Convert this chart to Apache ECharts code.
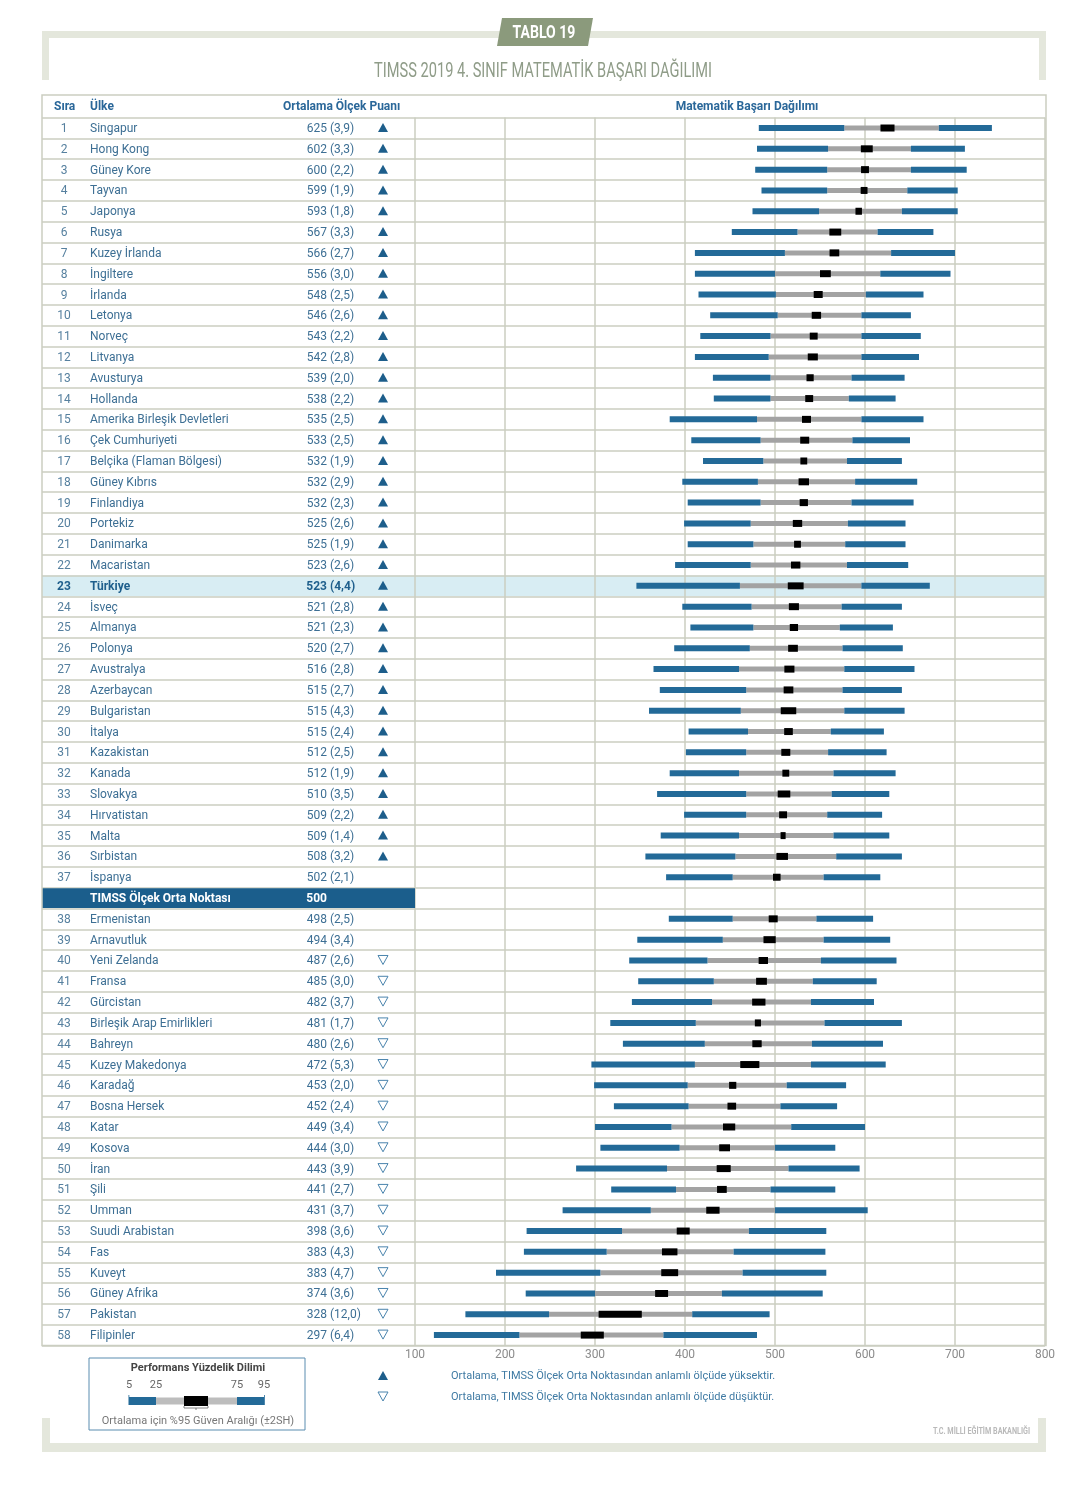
<!DOCTYPE html>
<html><head><meta charset="utf-8">
<style>html,body{margin:0;padding:0;background:#fff}#c{width:1080px;height:1486px}</style>
<script src="https://cdn.jsdelivr.net/npm/echarts@6/dist/echarts.min.js"></script>
</head><body><div id="c"></div>
<script>
// ---------------- DATA ----------------
const countries = ['Singapur','Hong Kong','Güney Kore','Tayvan','Japonya','Rusya','Kuzey İrlanda','İngiltere','İrlanda','Letonya','Norveç','Litvanya','Avusturya','Hollanda','Amerika Birleşik Devletleri','Çek Cumhuriyeti','Belçika (Flaman Bölgesi)','Güney Kıbrıs','Finlandiya','Portekiz','Danimarka','Macaristan','Türkiye','İsveç','Almanya','Polonya','Avustralya','Azerbaycan','Bulgaristan','İtalya','Kazakistan','Kanada','Slovakya','Hırvatistan','Malta','Sırbistan','İspanya','Ermenistan','Arnavutluk','Yeni Zelanda','Fransa','Gürcistan','Birleşik Arap Emirlikleri','Bahreyn','Kuzey Makedonya','Karadağ','Bosna Hersek','Katar','Kosova','İran','Şili','Umman','Suudi Arabistan','Fas','Kuveyt','Güney Afrika','Pakistan','Filipinler'];
const means = [625,602,600,599,593,567,566,556,548,546,543,542,539,538,535,533,532,532,532,525,525,523,523,521,521,520,516,515,515,515,512,512,510,509,509,508,502,498,494,487,485,482,481,480,472,453,452,449,444,443,441,431,398,383,383,374,328,297];
const stdErrors = [3.9,3.3,2.2,1.9,1.8,3.3,2.7,3.0,2.5,2.6,2.2,2.8,2.0,2.2,2.5,2.5,1.9,2.9,2.3,2.6,1.9,2.6,4.4,2.8,2.3,2.7,2.8,2.7,4.3,2.4,2.5,1.9,3.5,2.2,1.4,3.2,2.1,2.5,3.4,2.6,3.0,3.7,1.7,2.6,5.3,2.0,2.4,3.4,3.0,3.9,2.7,3.7,3.6,4.3,4.7,3.6,12.0,6.4];
// 1 = significantly higher than centrepoint, 0 = not significant, -1 = significantly lower
const significance = [1,1,1,1,1,1,1,1,1,1,1,1,1,1,1,1,1,1,1,1,1,1,1,1,1,1,1,1,1,1,1,1,1,1,1,1,0,0,0,-1,-1,-1,-1,-1,-1,-1,-1,-1,-1,-1,-1,-1,-1,-1,-1,-1,-1,-1];
const p5  = [482,480,478,485,475,452,411,411,415,428,417,411,431,432,383,407,420,397,403,399,403,389,346,397,406,388,365,372,360,404,401,383,369,399,373,356,379,382,347,338,348,341,317,331,296,299,321,300,306,279,318,264,224,221,190,223,156,121];
const p25 = [577,559,558,558,549,525,511,500,501,503,495,493,495,495,480,484,487,481,484,473,476,473,461,474,476,472,460,468,462,470,468,460,468,468,460,456,453,453,442,425,432,430,412,422,411,403,404,385,394,380,390,362,330,313,306,300,249,216];
const p75 = [682,651,651,647,641,614,629,617,601,596,596,596,585,582,596,586,580,589,585,581,578,580,596,574,572,575,577,575,577,562,559,565,563,558,565,568,554,546,554,551,542,540,555,541,540,513,506,518,500,515,495,500,471,454,464,441,408,376];
const p95 = [741,711,713,703,703,676,700,695,665,651,662,660,644,634,665,650,641,658,654,645,645,648,672,641,631,642,655,641,644,621,624,634,627,619,627,641,617,609,628,635,613,610,641,620,623,579,569,600,567,594,567,603,557,556,557,553,494,480];
const midpointLabel = 'TIMSS Ölçek Orta Noktası';
const midpointValue = 500;
const midpointAfter = 37;          // countries listed above the centrepoint row
const highlightCountry = 'Türkiye';
const axisMin = 100, axisMax = 800, axisStep = 100;

const titleText = 'TIMSS 2019 4. SINIF MATEMATİK BAŞARI DAĞILIMI';
const badgeText = 'TABLO 19';
const headers = ['Sıra','Ülke','Ortalama Ölçek Puanı','Matematik Başarı Dağılımı'];
const legendTitle = 'Performans Yüzdelik Dilimi';
const legendPercentiles = ['5','25','75','95'];
const legendCI = 'Ortalama için %95 Güven Aralığı (±2SH)';
const noteHigh = 'Ortalama, TIMSS Ölçek Orta Noktasından anlamlı ölçüde yüksektir.';
const noteLow = 'Ortalama, TIMSS Ölçek Orta Noktasından anlamlı ölçüde düşüktür.';
const sourceText = 'T.C. MİLLİ EĞİTİM BAKANLIĞI';

// ---------------- BUILD ROWS ----------------
const rowLabels = [], rowInfo = [];
countries.forEach((n, i) => {
  if (i === midpointAfter) { rowLabels.push(midpointLabel); rowInfo.push({ mid: true }); }
  rowLabels.push(n); rowInfo.push({ i });
});
const rowOf = i => (i < midpointAfter ? i : i + 1);
const fmt = v => v.toFixed(1).replace('.', ',');

const FONT = 'Roboto, "Noto Sans", sans-serif';
const TXT = '#3d6f94';
const BLUE = '#236a98';
const GRID = '#cbcec1';

const tableData = rowInfo.map((r, k) => [0, k]);
const hiIdx = countries.indexOf(highlightCountry);
const barData = countries.map((n, i) => [rowOf(i), p5[i], p25[i], p75[i], p95[i], means[i], stdErrors[i]]);

function renderTable(params, api) {
  const r = api.value(1);
  const info = rowInfo[r];
  const cs = params.coordSys;
  const yc = api.coord([0, r])[1];
  const y = yc + 1;
  const h = api.size([0, 1])[1];
  const x0 = cs.x;
  const ch = [];
  if (info.mid) {
    ch.push({ type: 'rect', shape: { x: x0, y: yc - h / 2 + 0.5, width: cs.width, height: h - 1 }, style: { fill: '#1b5e8c' } });
    ch.push({ type: 'text', style: { x: x0 + 48, y: y, text: midpointLabel, fill: '#fff', font: 'bold 12px ' + FONT, textVerticalAlign: 'middle' } });
    ch.push({ type: 'text', style: { x: x0 + 285, y: y, text: String(midpointValue), fill: '#fff', font: 'bold 12px ' + FONT, textAlign: 'right', textVerticalAlign: 'middle' } });
    return { type: 'group', children: ch };
  }
  const i = info.i;
  const bold = countries[i] === highlightCountry;
  const f = (bold ? 'bold ' : '') + '12px ' + FONT;
  const col = bold ? '#1f5f8c' : TXT;
  ch.push({ type: 'text', style: { x: x0 + 22, y: y, text: String(i + 1), fill: bold ? col : '#56809f', font: f, textAlign: 'center', textVerticalAlign: 'middle' } });
  ch.push({ type: 'text', style: { x: x0 + 48, y: y, text: countries[i], fill: col, font: f, textVerticalAlign: 'middle' } });
  ch.push({ type: 'text', style: { x: x0 + 285, y: y, text: String(means[i]), fill: col, font: f, textAlign: 'right', textVerticalAlign: 'middle' } });
  ch.push({ type: 'text', style: { x: x0 + 288, y: y, text: '(' + fmt(stdErrors[i]) + ')', fill: col, font: f, textVerticalAlign: 'middle' } });
  const tx = x0 + 341;
  if (significance[i] === 1) {
    ch.push({ type: 'polygon', shape: { points: [[tx - 5, yc + 4], [tx + 5, yc + 4], [tx, yc - 5]] }, style: { fill: '#1d5e8b' } });
  } else if (significance[i] === -1) {
    ch.push({ type: 'polygon', shape: { points: [[tx - 5, yc - 5], [tx + 5, yc - 5], [tx, yc + 4]] }, style: { fill: 'none', stroke: '#4a84ad', lineWidth: 1 } });
  }
  return { type: 'group', children: ch };
}

function renderHighlight(params, api) {
  const r = api.value(1);
  const y = api.coord([0, r])[1];
  const h = api.size([0, 1])[1];
  return { type: 'rect', shape: { x: 42, y: y - h / 2, width: 1004, height: h }, style: { fill: '#d8edf3' } };
}

function renderBars(params, api) {
  const r = api.value(0);
  const X = v => api.coord([v, r])[0];
  const y = api.coord([axisMin, r])[1];
  const a = X(api.value(1)), b = X(api.value(2)), c = X(api.value(3)), d = X(api.value(4));
  const m = api.value(5), s = api.value(6);
  const lo = X(m - 2 * s), hi = X(m + 2 * s);
  return { type: 'group', children: [
    { type: 'rect', shape: { x: b, y: y - 2.5, width: c - b, height: 5 }, style: { fill: '#a3a3a3' } },
    { type: 'rect', shape: { x: a, y: y - 3, width: b - a, height: 6 }, style: { fill: BLUE } },
    { type: 'rect', shape: { x: c, y: y - 3, width: d - c, height: 6 }, style: { fill: BLUE } },
    { type: 'rect', shape: { x: lo, y: y - 3.5, width: hi - lo, height: 7 }, style: { fill: '#000' } }
  ] };
}

const gridTop = 117.6, gridH = 1227.9;
const catAxis = (gi) => ({
  type: 'category', gridIndex: gi, data: rowLabels, inverse: true, z: 3,
  axisLine: { show: false }, axisTick: { show: false }, axisLabel: { show: false },
  splitLine: { show: true, lineStyle: { color: GRID, width: 1.5 } }
});

const sage = '#e4e7dc';
const option = {
  backgroundColor: '#fff',
  animation: false,
  grid: [
    { left: 42, width: 373, top: gridTop, height: gridH },
    { left: 415, width: 630, top: gridTop, height: gridH }
  ],
  xAxis: [
    { type: 'value', gridIndex: 0, min: 0, max: 1, show: false },
    { type: 'value', gridIndex: 1, min: axisMin, max: axisMax, interval: axisStep, z: 3,
      axisLine: { show: false }, axisTick: { show: false },
      axisLabel: { color: '#8c8c8c', fontSize: 12, fontFamily: FONT, margin: 3 },
      splitLine: { show: true, lineStyle: { color: GRID, width: 1.5 } } }
  ],
  yAxis: [catAxis(0), catAxis(1)],
  series: [
    { type: 'custom', name: 'highlight', xAxisIndex: 0, yAxisIndex: 0, z: 1, silent: true,
      data: [[0, rowOf(hiIdx)]], renderItem: renderHighlight, encode: { x: 0, y: 1 } },
    { type: 'custom', name: 'table', xAxisIndex: 0, yAxisIndex: 0, z: 5, silent: true,
      data: tableData, renderItem: renderTable, encode: { x: 0, y: 1 } },
    { type: 'custom', name: 'dist', xAxisIndex: 1, yAxisIndex: 1, z: 5, silent: true,
      data: barData, renderItem: renderBars, encode: { x: [1, 2, 3, 4], y: 0 } }
  ],
  graphic: [
    // top frame
    { type: 'rect', z: 0, shape: { x: 42, y: 31, width: 1004, height: 7 }, style: { fill: sage } },
    { type: 'rect', z: 0, shape: { x: 42, y: 31, width: 7, height: 49 }, style: { fill: sage } },
    { type: 'rect', z: 0, shape: { x: 1039, y: 31, width: 7, height: 49 }, style: { fill: sage } },
    { type: 'polygon', z: 1, shape: { points: [[502, 18], [593, 18], [588, 46], [497, 46]] }, style: { fill: '#8b9a7c' } },
    { type: 'text', z: 2, x: 544, y: 33, scaleX: 0.78, style: { text: badgeText, fill: '#fff', font: 'bold 18px ' + FONT, textAlign: 'center', textVerticalAlign: 'middle' } },
    { type: 'text', z: 2, x: 543, y: 72, scaleX: 0.75, style: { text: titleText, fill: '#8f9c88', font: '19.5px ' + FONT, textAlign: 'center', textVerticalAlign: 'middle' } },
    // header
    { type: 'text', z: 2, style: { x: 54, y: 107, text: headers[0], fill: '#2a6799', font: 'bold 12px ' + FONT, textVerticalAlign: 'middle' } },
    { type: 'text', z: 2, style: { x: 90, y: 107, text: headers[1], fill: '#2a6799', font: 'bold 12px ' + FONT, textVerticalAlign: 'middle' } },
    { type: 'text', z: 2, style: { x: 283, y: 107, text: headers[2], fill: '#2a6799', font: 'bold 12px ' + FONT, textVerticalAlign: 'middle' } },
    { type: 'text', z: 2, style: { x: 747, y: 107, text: headers[3], fill: '#2a6799', font: 'bold 12px ' + FONT, textAlign: 'center', textVerticalAlign: 'middle' } },
    // table border
    { type: 'rect', z: 20, shape: { x: 42, y: 95, width: 1004, height: 1250.5 }, style: { fill: 'none', stroke: GRID, lineWidth: 1.5 } },
    // legend box
    { type: 'rect', z: 2, shape: { x: 89, y: 1358, width: 216, height: 72 }, style: { fill: '#fff', stroke: '#5a8db0', lineWidth: 1 } },
    { type: 'text', z: 3, style: { x: 198, y: 1368, text: legendTitle, fill: '#444', font: 'bold 11px ' + FONT, textAlign: 'center', textVerticalAlign: 'middle' } },
    { type: 'text', z: 3, style: { x: 129, y: 1385, text: legendPercentiles[0], fill: '#666', font: '11px ' + FONT, textAlign: 'center', textVerticalAlign: 'middle' } },
    { type: 'text', z: 3, style: { x: 156, y: 1385, text: legendPercentiles[1], fill: '#666', font: '11px ' + FONT, textAlign: 'center', textVerticalAlign: 'middle' } },
    { type: 'text', z: 3, style: { x: 237, y: 1385, text: legendPercentiles[2], fill: '#666', font: '11px ' + FONT, textAlign: 'center', textVerticalAlign: 'middle' } },
    { type: 'text', z: 3, style: { x: 264, y: 1385, text: legendPercentiles[3], fill: '#666', font: '11px ' + FONT, textAlign: 'center', textVerticalAlign: 'middle' } },
    { type: 'rect', z: 3, shape: { x: 128.5, y: 1395, width: 0.8, height: 10 }, style: { fill: BLUE } },
    { type: 'rect', z: 3, shape: { x: 264, y: 1395, width: 0.8, height: 10 }, style: { fill: BLUE } },
    { type: 'rect', z: 3, shape: { x: 129, y: 1397, width: 27, height: 8 }, style: { fill: BLUE } },
    { type: 'rect', z: 3, shape: { x: 156, y: 1397.5, width: 81, height: 7 }, style: { fill: '#bdbdbd' } },
    { type: 'rect', z: 3, shape: { x: 237, y: 1397, width: 27, height: 8 }, style: { fill: BLUE } },
    { type: 'rect', z: 4, shape: { x: 184, y: 1396, width: 24, height: 10 }, style: { fill: '#000' } },
    { type: 'polyline', z: 4, shape: { points: [[184, 1406], [184, 1408], [208, 1408], [208, 1406]] }, style: { stroke: '#666', lineWidth: 0.8, fill: 'none' } },
    { type: 'polyline', z: 4, shape: { points: [[196, 1408], [196, 1410]] }, style: { stroke: '#666', lineWidth: 0.8 } },
    { type: 'text', z: 3, style: { x: 198, y: 1421, text: legendCI, fill: '#777', font: '11px ' + FONT, textAlign: 'center', textVerticalAlign: 'middle' } },
    // significance notes
    { type: 'polygon', z: 3, shape: { points: [[378, 1380], [388, 1380], [383, 1371]] }, style: { fill: '#1d5e8b' } },
    { type: 'polygon', z: 3, shape: { points: [[378, 1392], [388, 1392], [383, 1401]] }, style: { fill: 'none', stroke: '#4a84ad', lineWidth: 1 } },
    { type: 'text', z: 3, style: { x: 451, y: 1376, text: noteHigh, fill: '#3f7aa3', font: '11px ' + FONT, textVerticalAlign: 'middle' } },
    { type: 'text', z: 3, style: { x: 451, y: 1397, text: noteLow, fill: '#3f7aa3', font: '11px ' + FONT, textVerticalAlign: 'middle' } },
    // bottom frame
    { type: 'rect', z: 0, shape: { x: 42, y: 1443, width: 1004, height: 9 }, style: { fill: sage } },
    { type: 'rect', z: 0, shape: { x: 42, y: 1418, width: 8, height: 34 }, style: { fill: sage } },
    { type: 'rect', z: 0, shape: { x: 1038, y: 1418, width: 8, height: 34 }, style: { fill: sage } },
    { type: 'text', z: 3, x: 1030, y: 1432, scaleX: 0.8, style: { text: sourceText, fill: '#b9b9b9', font: 'bold 9px ' + FONT, textAlign: 'right', textVerticalAlign: 'middle' } }
  ]
};
const chart = echarts.init(document.getElementById('c'), null, { renderer: 'canvas', width: 1080, height: 1486 });
chart.setOption(option);
</script>
</body></html>
